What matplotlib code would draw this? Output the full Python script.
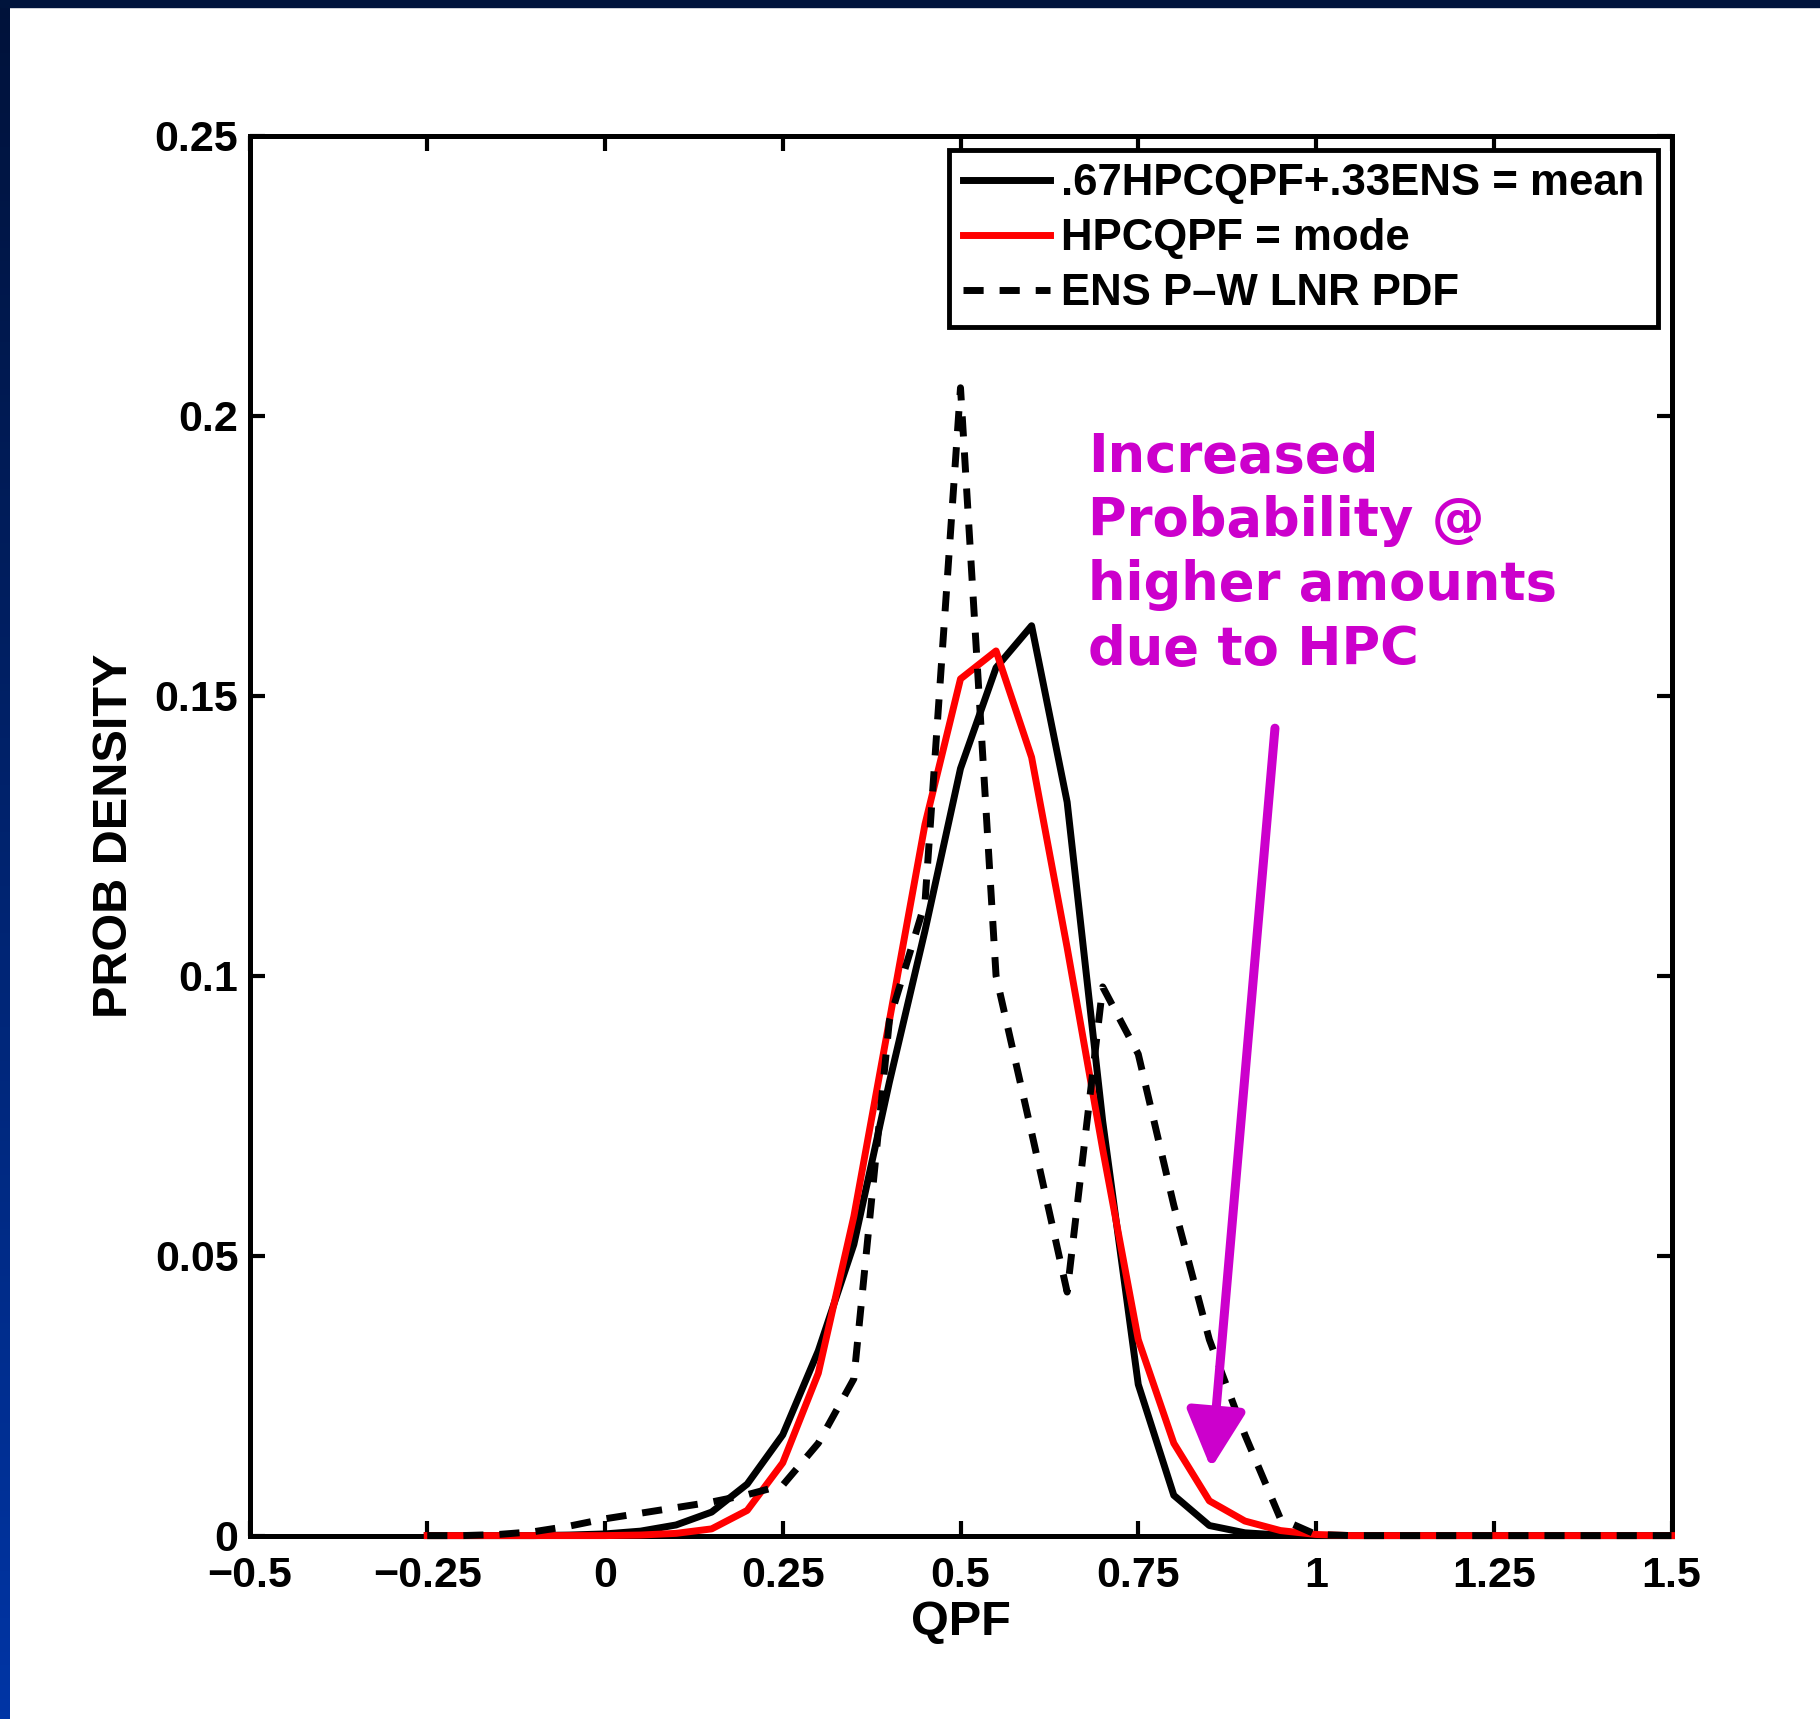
import numpy as np
import matplotlib
matplotlib.use("Agg")
import matplotlib.pyplot as plt
from matplotlib.colors import LinearSegmentedColormap
from matplotlib.patches import Rectangle

# QPF bins and the three probability densities
qpf = [-0.25, -0.2, -0.15, -0.1, -0.05, 0.0, 0.05, 0.1, 0.15, 0.2,
       0.25, 0.3, 0.35, 0.4, 0.45, 0.5, 0.55, 0.6, 0.65, 0.7,
       0.75, 0.8, 0.85, 0.9, 0.95, 1.0, 1.05, 1.1, 1.15, 1.2,
       1.25, 1.3, 1.35, 1.4, 1.45, 1.5]
mean_pdf = [0, 0, 0, 0, 0.0001, 0.0003, 0.0008, 0.0019, 0.0042, 0.0092,
            0.018, 0.033, 0.052, 0.081, 0.108, 0.137, 0.155, 0.1625, 0.131, 0.074,
            0.027, 0.0072, 0.0018, 0.0005, 0.0001, 0, 0, 0, 0, 0,
            0, 0, 0, 0, 0, 0]
mode_pdf = [0, 0, 0, 0, 0, 0, 0.0001, 0.0004, 0.0012, 0.0045,
            0.013, 0.029, 0.057, 0.092, 0.127, 0.153, 0.158, 0.139, 0.105, 0.069,
            0.035, 0.0165, 0.0062, 0.0026, 0.0009, 0.0002, 0, 0, 0, 0,
            0, 0, 0, 0, 0, 0]
ens_pdf = [0, 0, 0.0002, 0.0007, 0.0017, 0.003, 0.004, 0.005, 0.006, 0.0073,
           0.009, 0.0165, 0.028, 0.092, 0.113, 0.205, 0.100, 0.072, 0.0435, 0.098,
           0.086, 0.059, 0.035, 0.018, 0.003, 0.0002, 0, 0, 0, 0,
           0, 0, 0, 0, 0, 0]

labels = [".67HPCQPF+.33ENS = mean", "HPCQPF = mode", "ENS P\u2013W LNR PDF"]
xticks = [-0.5, -0.25, 0, 0.25, 0.5, 0.75, 1, 1.25, 1.5]
xticklabels = ["\u22120.5", "\u22120.25", "0", "0.25", "0.5", "0.75", "1", "1.25", "1.5"]
yticks = [0, 0.05, 0.1, 0.15, 0.2, 0.25]
yticklabels = ["0", "0.05", "0.1", "0.15", "0.2", "0.25"]
note = "Increased\nProbability @\nhigher amounts\ndue to HPC"

W, H = 1820, 1719
fig = plt.figure(figsize=(W / 100, H / 100), dpi=100, facecolor="white")

# slide frame: dark strip on top, blue gradient on the left
fig.add_artist(Rectangle((0, 1 - 7 / H), 1, 7 / H, transform=fig.transFigure,
                         color="#00143c", zorder=10))
strip = fig.add_axes([0, 0, 10 / W, 1])
edge_cmap = LinearSegmentedColormap.from_list("edge", ["#00123a", "#0035a5"])
strip.imshow(np.linspace(0, 1, 256).reshape(-1, 1), aspect="auto", cmap=edge_cmap,
             extent=[0, 1, 0, 1], origin="upper")
strip.axis("off")

ax = fig.add_axes([249.5 / W, 1 - 1535.6 / H, 1422 / W, 1399.8 / H])

bold = dict(family="Liberation Sans", weight="bold")

ax.plot(qpf, mean_pdf, color="black", lw=5, label=labels[0], clip_on=False, zorder=3)
ax.plot(qpf, mode_pdf, color="#ff0000", lw=5, label=labels[1], clip_on=False, zorder=4)
ax.plot(qpf, ens_pdf, color="black", lw=5, ls=(0, (2.9, 2.3)), label=labels[2],
        clip_on=False, zorder=5)

ax.set_xlim(-0.5, 1.5)
ax.set_ylim(0, 0.25)
ax.set_xticks(xticks)
ax.set_xticklabels(xticklabels, fontsize=31, **bold)
ax.set_yticks(yticks)
ax.set_yticklabels(yticklabels, fontsize=31, **bold)
ax.tick_params(direction="in", length=11, width=3, top=True, right=True)
ax.tick_params(axis="x", pad=15)
ax.tick_params(axis="y", pad=8)
for sp in ax.spines.values():
    sp.set_linewidth(3.6)

ax.set_xlabel("QPF", fontsize=35, **bold)
ax.set_ylabel("PROB DENSITY", fontsize=35, **bold)
ax.xaxis.set_label_coords(0.5, -0.046)
ax.yaxis.set_label_coords(-0.079, 0.5)

leg = ax.legend(loc="upper right", prop=dict(family="Liberation Sans", weight="bold", size=31.5),
                handlelength=2.0, handletextpad=0.25, labelspacing=0.32,
                borderpad=0.3, borderaxespad=0.32, fancybox=False, framealpha=1)
leg.get_frame().set_edgecolor("black")
leg.get_frame().set_linewidth(3.5)

ax.text(0.679, 0.1973, note, color="#cc00cc", fontsize=38, family="DejaVu Sans",
        weight="bold", va="top", ha="left", linespacing=1.3)

ax.annotate("", xy=(0.8523, 0.012), xytext=(0.9423, 0.1442),
            arrowprops=dict(arrowstyle="-|>,head_length=0.7,head_width=0.36",
                            mutation_scale=50, lw=6.5, color="#cc00cc",
                            shrinkA=0, shrinkB=0), zorder=6)

fig.savefig("out.png", dpi=100, facecolor="white")
